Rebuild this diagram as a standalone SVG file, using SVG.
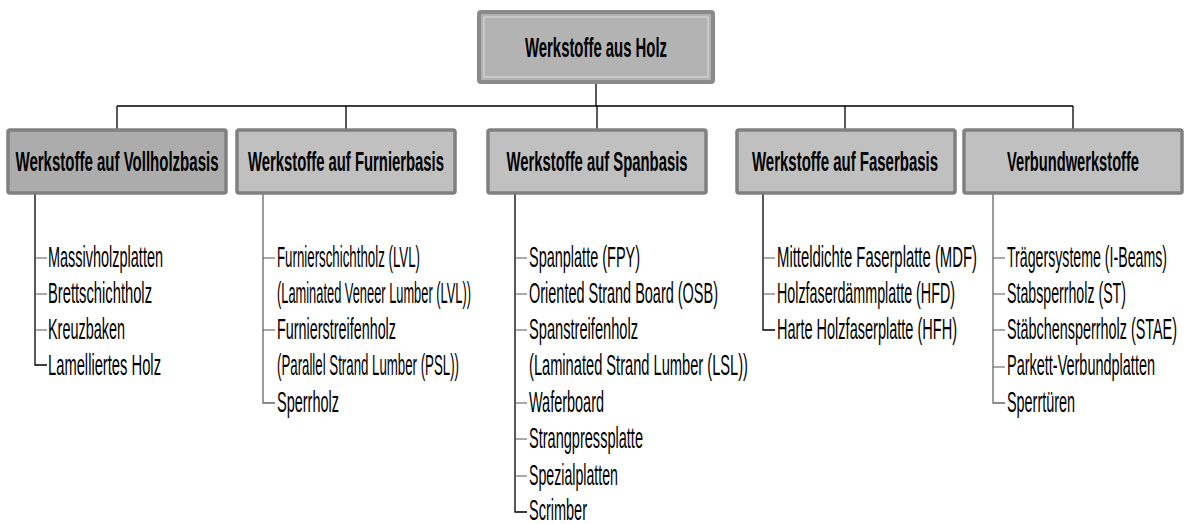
<svg xmlns="http://www.w3.org/2000/svg" width="1188" height="524" viewBox="0 0 1188 524">
<style>
.bg{fill:#ffffff}
.box{fill:#c0c0c0;stroke:#808080;stroke-width:3.5}
.box.dark{fill:#acacac}
.top{fill:#b3b3b3;stroke:#8a8a8a;stroke-width:4}
.inner{fill:none;stroke:#cfcfcf;stroke-width:1.5}
.lbl{font-family:"Liberation Sans",Arial,sans-serif;font-weight:bold;font-size:28px;fill:#000;text-anchor:middle}
.item{font-family:"Liberation Sans",Arial,sans-serif;font-size:29px;fill:#000}
.ln{fill:none;stroke:#000;stroke-width:1.3}
.lg{fill:none;stroke:#666;stroke-width:1.3}
.tk{fill:none;stroke:#555;stroke-width:1}
</style>
<rect class="bg" x="0" y="0" width="1188" height="524"/>
<g id="connectors">
<path class="ln" d="M596 82V106M117 106H1073M117 106V130M346 106V130M597 106V130M845 106V130M1073 106V130"/>
<path class="ln" d="M35 193V365H47"/>
<path class="tk" d="M35 258H47M35 294H47M35 330H47"/>
<path class="lg" d="M263 193V403H275"/>
<path class="tk" d="M263 258H275M263 330H275"/>
<path class="ln" d="M515 193V512H527"/>
<path class="tk" d="M515 258H527M515 294H527M515 330H527M515 403H527M515 439H527M515 476H527"/>
<path class="ln" d="M763 193V330H775"/>
<path class="tk" d="M763 258H775M763 294H775"/>
<path class="lg" d="M993 193V403H1005"/>
<path class="tk" d="M993 258H1005M993 294H1005M993 330H1005M993 367H1005"/>
</g>
<g id="n0">
<rect class="top" x="479" y="12" width="234" height="70" rx="2"/>
<rect class="inner" x="484" y="17" width="224" height="60"/>
<text class="lbl" transform="translate(596 57) scale(0.5 1)" font-size="30" textLength="284" lengthAdjust="spacingAndGlyphs">Werkstoffe aus Holz</text>
</g>
<g id="n1">
<rect class="box dark" x="8" y="130" width="218" height="63" rx="2"/>
<text class="lbl" transform="translate(117 171) scale(0.5 1)" textLength="406" lengthAdjust="spacingAndGlyphs">Werkstoffe auf Vollholzbasis</text>
<text class="item" transform="translate(48 267) scale(0.5 1)" textLength="230" lengthAdjust="spacingAndGlyphs">Massivholzplatten</text>
<text class="item" transform="translate(48 303) scale(0.5 1)" textLength="208" lengthAdjust="spacingAndGlyphs">Brettschichtholz</text>
<text class="item" transform="translate(48 339) scale(0.5 1)" textLength="154" lengthAdjust="spacingAndGlyphs">Kreuzbaken</text>
<text class="item" transform="translate(48 375) scale(0.5 1)" textLength="226" lengthAdjust="spacingAndGlyphs">Lamelliertes Holz</text>
</g>
<g id="n2">
<rect class="box" x="237" y="130" width="218" height="63" rx="2"/>
<text class="lbl" transform="translate(346 171) scale(0.5 1)" textLength="392" lengthAdjust="spacingAndGlyphs">Werkstoffe auf Furnierbasis</text>
<text class="item" transform="translate(277 267) scale(0.5 1)" textLength="286" lengthAdjust="spacingAndGlyphs">Furnierschichtholz (LVL)</text>
<text class="item" transform="translate(277 303) scale(0.5 1)" textLength="388" lengthAdjust="spacingAndGlyphs">(Laminated Veneer Lumber (LVL))</text>
<text class="item" transform="translate(277 339) scale(0.5 1)" textLength="238" lengthAdjust="spacingAndGlyphs">Furnierstreifenholz</text>
<text class="item" transform="translate(277 375) scale(0.5 1)" textLength="364" lengthAdjust="spacingAndGlyphs">(Parallel Strand Lumber (PSL))</text>
<text class="item" transform="translate(277 412) scale(0.5 1)" textLength="124" lengthAdjust="spacingAndGlyphs">Sperrholz</text>
</g>
<g id="n3">
<rect class="box" x="488" y="130" width="218" height="63" rx="2"/>
<text class="lbl" transform="translate(597 171) scale(0.5 1)" textLength="362" lengthAdjust="spacingAndGlyphs">Werkstoffe auf Spanbasis</text>
<text class="item" transform="translate(529 267) scale(0.5 1)" textLength="222" lengthAdjust="spacingAndGlyphs">Spanplatte (FPY)</text>
<text class="item" transform="translate(529 303) scale(0.5 1)" textLength="378" lengthAdjust="spacingAndGlyphs">Oriented Strand Board (OSB)</text>
<text class="item" transform="translate(529 339) scale(0.5 1)" textLength="218" lengthAdjust="spacingAndGlyphs">Spanstreifenholz</text>
<text class="item" transform="translate(529 375) scale(0.5 1)" textLength="438" lengthAdjust="spacingAndGlyphs">(Laminated Strand Lumber (LSL))</text>
<text class="item" transform="translate(529 412) scale(0.5 1)" textLength="150" lengthAdjust="spacingAndGlyphs">Waferboard</text>
<text class="item" transform="translate(529 448) scale(0.5 1)" textLength="228" lengthAdjust="spacingAndGlyphs">Strangpressplatte</text>
<text class="item" transform="translate(529 485) scale(0.5 1)" textLength="178" lengthAdjust="spacingAndGlyphs">Spezialplatten</text>
<text class="item" transform="translate(529 520) scale(0.5 1)" textLength="116" lengthAdjust="spacingAndGlyphs">Scrimber</text>
</g>
<g id="n4">
<rect class="box" x="737" y="130" width="218" height="63" rx="2"/>
<text class="lbl" transform="translate(845 171) scale(0.5 1)" textLength="372" lengthAdjust="spacingAndGlyphs">Werkstoffe auf Faserbasis</text>
<text class="item" transform="translate(777 267) scale(0.5 1)" textLength="400" lengthAdjust="spacingAndGlyphs">Mitteldichte Faserplatte (MDF)</text>
<text class="item" transform="translate(777 303) scale(0.5 1)" textLength="356" lengthAdjust="spacingAndGlyphs">Holzfaserdämmplatte (HFD)</text>
<text class="item" transform="translate(777 339) scale(0.5 1)" textLength="360" lengthAdjust="spacingAndGlyphs">Harte Holzfaserplatte (HFH)</text>
</g>
<g id="n5">
<rect class="box" x="964" y="130" width="218" height="63" rx="2"/>
<text class="lbl" transform="translate(1073 171) scale(0.5 1)" textLength="264" lengthAdjust="spacingAndGlyphs">Verbundwerkstoffe</text>
<text class="item" transform="translate(1007 267) scale(0.5 1)" textLength="320" lengthAdjust="spacingAndGlyphs">Trägersysteme (I-Beams)</text>
<text class="item" transform="translate(1007 303) scale(0.5 1)" textLength="238" lengthAdjust="spacingAndGlyphs">Stabsperrholz (ST)</text>
<text class="item" transform="translate(1007 339) scale(0.5 1)" textLength="340" lengthAdjust="spacingAndGlyphs">Stäbchensperrholz (STAE)</text>
<text class="item" transform="translate(1007 375) scale(0.5 1)" textLength="296" lengthAdjust="spacingAndGlyphs">Parkett-Verbundplatten</text>
<text class="item" transform="translate(1007 412) scale(0.5 1)" textLength="136" lengthAdjust="spacingAndGlyphs">Sperrtüren</text>
</g>
</svg>
